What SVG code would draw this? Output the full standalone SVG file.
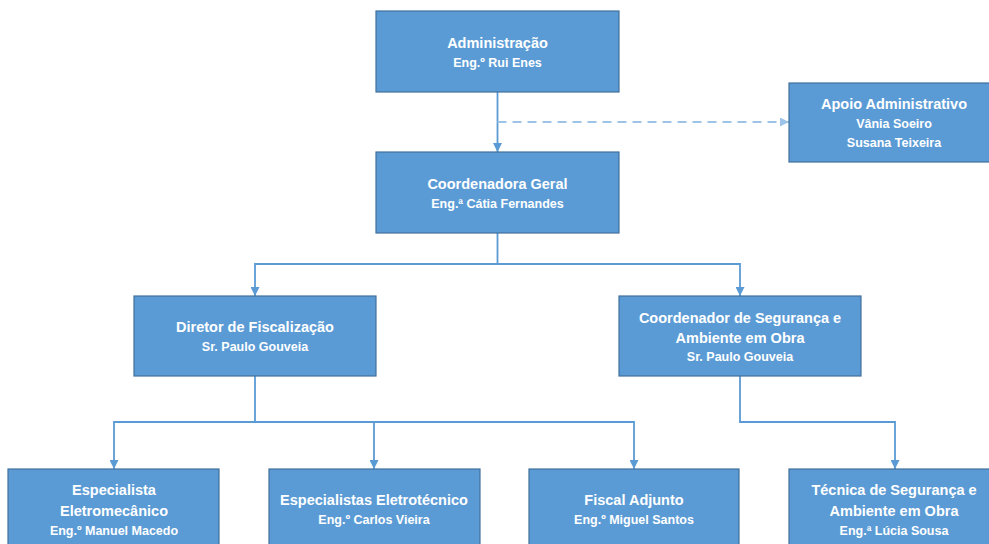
<svg xmlns="http://www.w3.org/2000/svg" width="989" height="544" viewBox="0 0 989 544">
  <defs>
    <style>
      .box { fill: #5B9BD5; stroke: #41719C; stroke-width: 1.2; }
      .t { font-family: "Liberation Sans", Arial, sans-serif; font-weight: bold; fill: #FFFFFF; text-anchor: middle; }
      .h { font-size: 14.5px; }
      .s { font-size: 12.5px; }
      .ln { fill: none; stroke: #5B9BD5; stroke-width: 1.8; }
      .dash { fill: none; stroke: #9DC3E6; stroke-width: 2; stroke-dasharray: 9 6; }
    </style>
    <marker id="arr" viewBox="0 0 10 10" refX="10" refY="5" markerWidth="9" markerHeight="9" markerUnits="userSpaceOnUse" orient="auto">
      <path d="M0,0 L10,5 L0,10 z" fill="#5B9BD5"/>
    </marker>
    <marker id="arrL" viewBox="0 0 10 10" refX="10" refY="5" markerWidth="9" markerHeight="9" markerUnits="userSpaceOnUse" orient="auto">
      <path d="M0,0 L10,5 L0,10 z" fill="#9DC3E6"/>
    </marker>
  </defs>
  <rect width="989" height="544" fill="#FFFFFF"/>

  <!-- connectors -->
  <g id="connectors">
    <path class="ln" d="M497.5,92 V152" marker-end="url(#arr)"/>
    <path class="dash" d="M497.5,122 H789" marker-end="url(#arrL)"/>
    <path class="ln" d="M497.5,233 V264 H255 V296" marker-end="url(#arr)"/>
    <path class="ln" d="M497.5,264 H740 V296" marker-end="url(#arr)"/>
    <path class="ln" d="M255,376 V422 H114 V469" marker-end="url(#arr)"/>
    <path class="ln" d="M255,422 H374 V469" marker-end="url(#arr)"/>
    <path class="ln" d="M374,422 H634 V469" marker-end="url(#arr)"/>
    <path class="ln" d="M740,376 V422 H895 V469" marker-end="url(#arr)"/>
  </g>

  <g id="administracao">
    <rect class="box" x="376" y="11" width="243" height="81"/>
    <text class="t h" x="497.5" y="48">Administração</text>
    <text class="t s" x="497.5" y="67">Eng.º Rui Enes</text>
  </g>

  <g id="apoio-administrativo">
    <rect class="box" x="789" y="83" width="210" height="79"/>
    <text class="t h" x="894" y="109">Apoio Administrativo</text>
    <text class="t s" x="894" y="128">Vânia Soeiro</text>
    <text class="t s" x="894" y="147">Susana Teixeira</text>
  </g>

  <g id="coordenadora-geral">
    <rect class="box" x="376" y="152" width="243" height="81"/>
    <text class="t h" x="497.5" y="189">Coordenadora Geral</text>
    <text class="t s" x="497.5" y="208">Eng.ª Cátia Fernandes</text>
  </g>

  <g id="diretor-fiscalizacao">
    <rect class="box" x="134" y="296" width="242" height="80"/>
    <text class="t h" x="255" y="332">Diretor de Fiscalização</text>
    <text class="t s" x="255" y="351">Sr. Paulo Gouveia</text>
  </g>

  <g id="coordenador-seguranca">
    <rect class="box" x="619" y="296" width="242" height="80"/>
    <text class="t h" x="740" y="323">Coordenador de Segurança e</text>
    <text class="t h" x="740" y="343">Ambiente em Obra</text>
    <text class="t s" x="740" y="361">Sr. Paulo Gouveia</text>
  </g>

  <g id="especialista-eletromecanico">
    <rect class="box" x="8" y="469" width="211" height="90"/>
    <text class="t h" x="114" y="495">Especialista</text>
    <text class="t h" x="114" y="516">Eletromecânico</text>
    <text class="t s" x="114" y="535">Eng.º Manuel Macedo</text>
  </g>

  <g id="especialistas-eletrotecnico">
    <rect class="box" x="269" y="469" width="211" height="90"/>
    <text class="t h" x="374" y="505">Especialistas Eletrotécnico</text>
    <text class="t s" x="374" y="524">Eng.º Carlos Vieira</text>
  </g>

  <g id="fiscal-adjunto">
    <rect class="box" x="529" y="469" width="210" height="90"/>
    <text class="t h" x="634" y="505">Fiscal Adjunto</text>
    <text class="t s" x="634" y="524">Eng.º Miguel Santos</text>
  </g>

  <g id="tecnica-seguranca">
    <rect class="box" x="789" y="469" width="211" height="90"/>
    <text class="t h" x="894" y="495">Técnica de Segurança e</text>
    <text class="t h" x="894" y="516">Ambiente em Obra</text>
    <text class="t s" x="894" y="535">Eng.ª Lúcia Sousa</text>
  </g>
</svg>
